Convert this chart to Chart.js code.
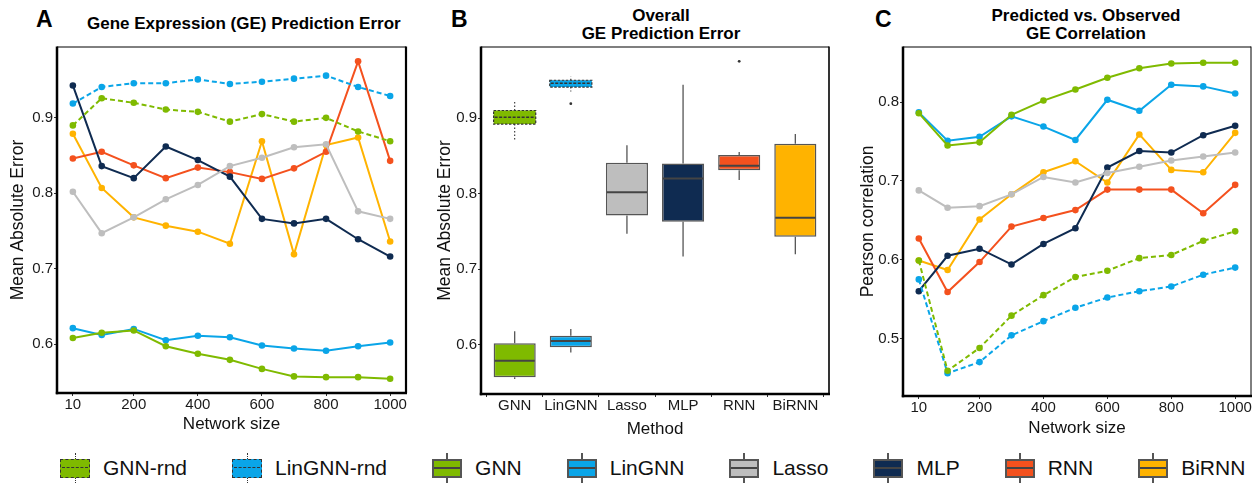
<!DOCTYPE html>
<html>
<head>
<meta charset="utf-8">
<script src="https://cdn.jsdelivr.net/npm/chart.js@4.4.1/dist/chart.umd.min.js"></script>
<style>
body{margin:0;width:1260px;height:484px;background:#fff;position:relative;overflow:hidden;font-family:"Liberation Sans",Arial,sans-serif;color:#000}
canvas{position:absolute;top:0}
.letter{position:absolute;top:8px;font-weight:bold;font-size:23px;line-height:23px}
.title{position:absolute;font-weight:bold;font-size:17px;line-height:17.6px;white-space:nowrap}
#legend{position:absolute;left:60px;top:453px;width:1200px;height:30px;display:flex;align-items:center;font-size:21px;color:#111;white-space:nowrap}
.item{display:flex;align-items:center;margin-right:45px;flex-shrink:0}
.icon{position:relative;width:30px;height:30px;margin-right:13px;flex-shrink:0}
.wh{position:absolute;left:14px;top:0;width:2px;height:30px;background:#555}
.bx{position:absolute;left:0;top:6px;width:30px;height:19px;box-sizing:border-box;border:2px solid #555}
.md{position:absolute;left:2px;right:2px;top:14px;height:2px;background:#444}
.rnd .wh{width:0;left:14.5px;background:none;border-left:1.5px dotted #333}
.rnd .bx{border:1.3px dashed #333}
.rnd .md{height:0;background:none;border-top:1.5px dashed #333}
</style>
</head>
<body>
<div class="letter" style="left:36px">A</div>
<div class="title" style="left:87px;top:15px">Gene Expression (GE) Prediction Error</div>
<div class="letter" style="left:451px">B</div>
<div class="title" style="left:511px;width:300px;top:7px;text-align:center">Overall<br>GE Prediction Error</div>
<div class="letter" style="left:875px">C</div>
<div class="title" style="left:936px;width:300px;top:7px;text-align:center">Predicted vs. Observed<br>GE Correlation</div>

<canvas id="chartA" width="420" height="440" style="left:0"></canvas>
<canvas id="chartB" width="420" height="444" style="left:420px"></canvas>
<canvas id="chartC" width="420" height="440" style="left:840px"></canvas>
<div id="legend"></div>

<script>
// 공통 데이터
const netSize = [10, 100, 200, 300, 400, 500, 600, 700, 800, 900, 1000];
const netTicks = [10, 200, 400, 600, 800, 1000];
const seriesNames = ['GNN-rnd', 'LinGNN-rnd', 'GNN', 'LinGNN', 'Lasso', 'MLP', 'RNN', 'BiRNN'];
const seriesColors = ['#7FBA00', '#0AA5E8', '#7FBA00', '#0AA5E8', '#BEBEBE', '#0F2B51', '#F4511E', '#FFB300'];
const seriesRnd = [true, true, false, false, false, false, false, false];

// A: mean absolute error per network size
const maeGnnRnd = [0.890, 0.926, 0.920, 0.911, 0.908, 0.895, 0.905, 0.895, 0.900, 0.882, 0.869];
const maeLinGnnRnd = [0.919, 0.941, 0.946, 0.946, 0.951, 0.945, 0.948, 0.952, 0.956, 0.941, 0.929];
const maeGnn = [0.608, 0.615, 0.618, 0.597, 0.587, 0.579, 0.567, 0.557, 0.556, 0.556, 0.554];
const maeLinGnn = [0.621, 0.612, 0.620, 0.605, 0.611, 0.609, 0.598, 0.594, 0.591, 0.597, 0.602];
const maeLasso = [0.802, 0.747, 0.768, 0.792, 0.811, 0.836, 0.847, 0.861, 0.865, 0.776, 0.766];
const maeMlp = [0.943, 0.836, 0.820, 0.862, 0.844, 0.822, 0.766, 0.760, 0.766, 0.739, 0.716];
const maeRnn = [0.846, 0.855, 0.837, 0.820, 0.834, 0.828, 0.819, 0.833, 0.855, 0.975, 0.843];
const maeBirnn = [0.879, 0.807, 0.768, 0.757, 0.749, 0.733, 0.869, 0.719, 0.864, 0.874, 0.736];
const maeTicks = [0.6, 0.7, 0.8, 0.9];

// B: box plot stats
const boxMethods = ['GNN', 'LinGNN', 'Lasso', 'MLP', 'RNN', 'BiRNN'];
const boxPos = [0, 1, 0, 1, 2, 3, 4, 5];
const boxLow = [0.869, 0.935, 0.555, 0.590, 0.747, 0.717, 0.818, 0.720];
const boxQ1 = [0.892, 0.941, 0.557, 0.597, 0.771, 0.763, 0.831, 0.743];
const boxMed = [0.901, 0.946, 0.579, 0.605, 0.802, 0.820, 0.837, 0.768];
const boxQ3 = [0.910, 0.950, 0.602, 0.612, 0.841, 0.840, 0.851, 0.866];
const boxHigh = [0.924, 0.955, 0.618, 0.621, 0.864, 0.944, 0.855, 0.879];
const boxOut = [[], [0.919], [], [], [], [], [0.975], []];

// C: pearson correlation per network size
const corGnnRnd = [0.599, 0.459, 0.488, 0.529, 0.555, 0.578, 0.586, 0.602, 0.606, 0.624, 0.636];
const corLinGnnRnd = [0.575, 0.456, 0.470, 0.504, 0.522, 0.539, 0.552, 0.560, 0.566, 0.581, 0.590];
const corGnn = [0.786, 0.745, 0.749, 0.784, 0.802, 0.816, 0.831, 0.843, 0.849, 0.850, 0.850];
const corLinGnn = [0.787, 0.751, 0.756, 0.782, 0.769, 0.752, 0.803, 0.789, 0.822, 0.820, 0.811];
const corLasso = [0.688, 0.666, 0.668, 0.683, 0.705, 0.698, 0.710, 0.718, 0.726, 0.731, 0.736];
const corMlp = [0.560, 0.605, 0.614, 0.594, 0.620, 0.640, 0.717, 0.738, 0.736, 0.758, 0.770];
const corRnn = [0.627, 0.559, 0.597, 0.642, 0.653, 0.663, 0.689, 0.689, 0.689, 0.659, 0.695];
const corBirnn = [0.599, 0.587, 0.651, 0.683, 0.711, 0.725, 0.698, 0.759, 0.714, 0.711, 0.761];
const corTicks = [0.5, 0.6, 0.7, 0.8];

Chart.defaults.font.family = '"Liberation Sans", Arial, sans-serif';
Chart.defaults.color = '#1a1a1a';
Chart.defaults.animation = false;

// 패널 테두리
const frame = {
	id: 'frame',
	afterDraw(chart, args, opts) {
		const ctx = chart.ctx, a = chart.chartArea;
		ctx.save();
		ctx.strokeStyle = '#000';
		const side = function(w, x1, y1, x2, y2) {
			ctx.lineWidth = w;
			ctx.beginPath(); ctx.moveTo(x1, y1); ctx.lineTo(x2, y2); ctx.stroke();
		};
		side(opts.top, a.left, a.top, a.right, a.top);
		side(opts.right, a.right, a.top - 0.5, a.right, a.bottom);
		side(opts.bottom, a.left - 1.2, a.bottom, a.right + 1, a.bottom);
		side(opts.left, a.left, a.top - 0.5, a.left, a.bottom + 1.2);
		ctx.restore();
	}
};

function lineSets(arrays) {
	return arrays.map(function(arr, i) {
		return {
			label: seriesNames[i],
			data: netSize.map(function(x, j) { return {x: x, y: arr[j]}; }),
			borderColor: seriesColors[i],
			backgroundColor: seriesColors[i],
			borderWidth: 2,
			borderDash: seriesRnd[i] ? [5, 3] : [],
			pointRadius: 3.3,
			pointBorderWidth: 0,
			pointBackgroundColor: seriesColors[i]
		};
	});
}

function lineOptions(yMin, yMax, yTicks, yTitle, o) {
	return {
		responsive: false,
		layout: {padding: {top: 47, right: o.right, left: 0, bottom: 0}},
		plugins: {legend: {display: false}, tooltip: {enabled: false}, frame: o.frame},
		scales: {
			x: {
				type: 'linear', min: -39.5, max: 1049.5,
				afterBuildTicks: function(s) { s.ticks = netTicks.map(function(v) { return {value: v}; }); },
				afterFit: function(s) { s.height = o.xHeight; },
				ticks: {font: {size: 15}, padding: 0, maxRotation: 0, color: '#1a1a1a', callback: function(v) { return String(v); }},
				grid: {drawOnChartArea: false, tickLength: 3, color: '#333'},
				border: {display: false},
				title: {display: true, text: 'Network size', font: {size: 17}, color: '#111', padding: {top: 0, bottom: o.xPad}}
			},
			y: {
				min: yMin, max: yMax,
				afterBuildTicks: function(s) { s.ticks = yTicks.map(function(v) { return {value: v}; }); },
				afterFit: function(s) { s.width = o.yWidth; },
				ticks: {font: {size: 15}, padding: 1, color: '#1a1a1a', callback: function(v) { return v.toFixed(1); }},
				grid: {drawOnChartArea: false, tickLength: 3, color: '#333'},
				border: {display: false},
				title: {display: true, text: yTitle, font: {size: 17.5}, color: '#111', padding: {top: o.yPad, bottom: 0}}
			}
		}
	};
}

// A 패널
new Chart(document.getElementById('chartA'), {
	type: 'line',
	data: {datasets: lineSets([maeGnnRnd, maeLinGnnRnd, maeGnn, maeLinGnn, maeLasso, maeMlp, maeRnn, maeBirnn])},
	options: lineOptions(0.535, 0.994, maeTicks, 'Mean Absolute Error',
		{right: 14, xHeight: 47, yWidth: 57, xPad: 5, yPad: 8, frame: {top: 1, right: 2.2, bottom: 2.5, left: 2.5}}),
	plugins: [frame]
});

// B 패널: 수염, 중앙값, 이상치
const boxParts = {
	id: 'boxParts',
	beforeDatasetsDraw(chart) {
		const ctx = chart.ctx, y = chart.scales.y;
		ctx.save();
		boxLow.forEach(function(lo, i) {
			const bar = chart.getDatasetMeta(i).data[0];
			ctx.strokeStyle = seriesRnd[i] ? '#333' : '#555';
			ctx.lineWidth = seriesRnd[i] ? 1.1 : 1.3;
			ctx.setLineDash(seriesRnd[i] ? [1.5, 2] : []);
			ctx.beginPath();
			ctx.moveTo(bar.x, y.getPixelForValue(boxQ3[i])); ctx.lineTo(bar.x, y.getPixelForValue(boxHigh[i]));
			ctx.moveTo(bar.x, y.getPixelForValue(boxQ1[i])); ctx.lineTo(bar.x, y.getPixelForValue(lo));
			ctx.stroke();
		});
		ctx.restore();
	},
	afterDatasetsDraw(chart) {
		const ctx = chart.ctx, y = chart.scales.y;
		ctx.save();
		boxMed.forEach(function(m, i) {
			const bar = chart.getDatasetMeta(i).data[0];
			const l = bar.x - bar.width / 2, r = bar.x + bar.width / 2;
			if (seriesRnd[i]) {
				ctx.strokeStyle = '#333';
				ctx.lineWidth = 1.2;
				ctx.setLineDash([2.5, 1.5]);
				const t = y.getPixelForValue(boxQ3[i]), b = y.getPixelForValue(boxQ1[i]);
				ctx.strokeRect(l, t, r - l, b - t);
				ctx.lineWidth = 1.6;
				ctx.setLineDash([3, 1.5]);
			} else {
				ctx.strokeStyle = '#444';
				ctx.lineWidth = 2;
				ctx.setLineDash([]);
			}
			const my = y.getPixelForValue(m);
			ctx.beginPath(); ctx.moveTo(l + 1, my); ctx.lineTo(r - 1, my); ctx.stroke();
			ctx.fillStyle = '#333';
			boxOut[i].forEach(function(v) {
				ctx.beginPath(); ctx.arc(bar.x, y.getPixelForValue(v), 1.4, 0, Math.PI * 2); ctx.fill();
			});
		});
		ctx.restore();
	}
};

new Chart(document.getElementById('chartB'), {
	type: 'bar',
	data: {
		datasets: seriesNames.map(function(name, i) {
			return {
				label: name,
				data: [{x: boxPos[i], y: [boxQ1[i], boxQ3[i]]}],
				backgroundColor: seriesColors[i],
				borderColor: '#555',
				borderWidth: seriesRnd[i] ? 0 : 1.5,
				borderSkipped: false,
				grouped: false,
				barPercentage: 0.75,
				categoryPercentage: 1
			};
		})
	},
	options: {
		responsive: false,
		layout: {padding: {top: 47, right: 11, left: 0, bottom: 0}},
		plugins: {legend: {display: false}, tooltip: {enabled: false}, frame: {top: 1.2, right: 1.6, bottom: 2.5, left: 2.5}},
		scales: {
			x: {
				type: 'linear', min: -0.6, max: 5.6, offset: false,
				afterBuildTicks: function(s) { s.ticks = boxMethods.map(function(m, i) { return {value: i}; }); },
				afterFit: function(s) { s.height = 50; },
				ticks: {font: {size: 15}, padding: 0, maxRotation: 0, autoSkip: false, color: '#1a1a1a',
					callback: function(v) { return boxMethods[v]; }},
				grid: {drawOnChartArea: false, tickLength: 3, color: '#333'},
				border: {display: false},
				title: {display: true, text: 'Method', font: {size: 17}, color: '#111', padding: {top: 0, bottom: 4}}
			},
			y: {
				min: 0.535, max: 0.994,
				afterBuildTicks: function(s) { s.ticks = maeTicks.map(function(v) { return {value: v}; }); },
				afterFit: function(s) { s.width = 61; },
				ticks: {font: {size: 15}, padding: 1, color: '#1a1a1a', callback: function(v) { return v.toFixed(1); }},
				grid: {drawOnChartArea: false, tickLength: 3, color: '#333'},
				border: {display: false},
				title: {display: true, text: 'Mean Absolute Error', font: {size: 17.5}, color: '#111', padding: {top: 15, bottom: 0}}
			}
		}
	},
	plugins: [boxParts, frame]
});

// C 패널
new Chart(document.getElementById('chartC'), {
	type: 'line',
	data: {datasets: lineSets([corGnnRnd, corLinGnnRnd, corGnn, corLinGnn, corLasso, corMlp, corRnn, corBirnn])},
	options: lineOptions(0.427, 0.870, corTicks, 'Pearson correlation',
		{right: 9, xHeight: 44, yWidth: 63, xPad: 1.5, yPad: 18, frame: {top: 1, right: 1, bottom: 2.5, left: 2.5}}),
	plugins: [frame]
});

// 범례
const legend = document.getElementById('legend');
seriesNames.forEach(function(name, i) {
	const item = document.createElement('div');
	item.className = 'item';
	item.innerHTML = '<div class="icon' + (seriesRnd[i] ? ' rnd' : '') + '"><div class="wh"></div>' +
		'<div class="bx" style="background:' + seriesColors[i] + '"></div><div class="md"></div></div><span>' + name + '</span>';
	legend.appendChild(item);
});
</script>
</body>
</html>
